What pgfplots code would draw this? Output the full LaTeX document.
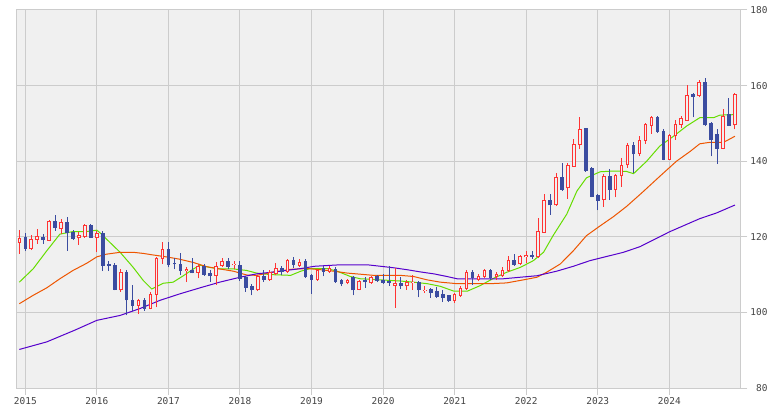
\documentclass[border=0pt]{standalone}
\usepackage{pgfplots}
\pgfplotsset{compat=1.18}
\usepackage{pgfplotstable}
\usepackage{fontspec}
\setmainfont{DejaVu Sans Mono}
\definecolor{bg}{HTML}{F0F0F0}
\definecolor{gridc}{HTML}{CCCCCC}
\definecolor{upc}{HTML}{FF3333}
\definecolor{dnc}{HTML}{3B4CA0}
\definecolor{maA}{HTML}{66DD00}
\definecolor{maB}{HTML}{EE5500}
\definecolor{maC}{HTML}{5500CC}
\definecolor{labc}{HTML}{444444}

% up (red, hollow) candles: x, body low, body high, wick low, wick high
\pgfplotstableread{
x lo hi wl wh
0 118.3 119.7 115.5 121.8
2 116.9 119.4 116.5 120.4
3 119.1 120.3 118.2 122.0
5 118.9 124.2 118.8 124.4
7 122.0 123.9 120.7 124.6
10 119.6 120.5 117.9 121.4
11 120.0 123.2 119.8 123.5
13 119.8 121.1 115.9 121.6
17 105.8 110.8 105.4 111.5
20 101.8 103.4 99.6 103.6
22 101.0 104.9 100.8 105.4
23 104.7 114.4 101.3 114.7
24 114.1 116.8 112.8 118.7
28 110.9 111.5 108.0 112.0
30 110.4 112.4 109.0 112.8
33 109.7 112.4 107.3 113.4
34 112.4 113.7 112.0 114.4
36 112.5 112.9 111.5 113.7
40 105.8 109.5 105.6 109.8
42 108.6 110.7 108.4 111.1
43 110.2 111.8 110.0 113.1
45 110.7 113.8 110.4 114.1
47 112.4 113.3 112.0 114.2
50 108.6 111.3 108.4 111.6
52 110.7 111.8 110.4 112.4
55 107.8 108.7 107.4 108.9
57 106.0 108.3 105.8 108.5
59 107.8 109.3 107.6 109.6
63 107.1 107.8 101.2 111.8
65 106.9 108.0 106.0 108.5
66 107.7 108.0 106.0 110.0
68 105.7 106.0 105.1 107.1
73 103.0 104.8 102.5 105.1
74 104.4 106.5 104.2 106.9
75 106.2 110.8 106.0 111.1
77 108.6 109.5 108.2 110.2
78 109.3 111.1 109.1 111.4
80 109.3 110.2 108.6 110.8
81 109.5 111.2 109.3 112.1
82 110.9 113.9 110.7 114.8
84 112.8 115.0 112.6 115.3
85 114.6 115.3 113.2 116.3
87 114.6 121.6 114.4 125.1
88 121.1 129.7 121.1 131.2
90 128.3 135.8 128.2 136.9
92 132.8 139.1 130.1 139.6
93 138.5 144.6 138.5 145.9
94 144.4 148.6 143.2 151.8
98 129.7 136.1 127.9 136.5
100 132.5 136.4 130.4 136.7
101 136.0 139.1 133.2 140.8
102 138.9 144.2 138.3 144.9
104 141.9 145.5 141.3 146.6
105 145.3 149.9 144.6 150.1
106 149.3 151.6 147.2 151.9
109 140.4 146.9 140.2 147.1
110 146.6 149.9 145.7 151.0
111 149.7 151.3 148.8 151.9
112 150.7 157.6 150.6 160.1
114 157.2 160.9 156.9 161.6
118 143.3 151.9 143.1 153.8
120 149.5 157.8 148.4 158.1
}\upT

% down (blue, filled) candles
\pgfplotstableread{
x lo hi wl wh
1 116.9 119.9 116.2 120.9
4 119.1 120.0 118.2 120.7
6 122.3 124.2 121.6 125.8
8 120.9 124.0 116.3 125.3
9 119.4 121.3 119.1 121.8
12 119.8 123.2 119.8 123.5
14 112.4 120.9 110.9 121.6
15 112.4 112.8 110.9 113.7
16 106.0 112.6 105.8 113.0
18 103.2 110.8 99.2 111.1
19 101.8 103.4 100.5 107.3
21 101.0 103.4 100.5 103.8
25 112.5 116.8 111.9 118.7
26 112.7 113.0 111.4 114.4
27 110.9 112.8 110.0 115.6
29 110.4 111.3 110.3 114.4
31 110.0 112.4 109.7 112.8
32 109.5 110.4 108.0 111.1
35 112.1 113.7 111.5 114.4
37 108.9 112.6 108.4 113.5
38 106.5 109.3 105.4 109.5
39 105.8 106.9 104.5 107.4
41 108.6 109.5 108.0 111.3
44 110.6 111.8 110.0 112.2
46 112.6 113.8 111.8 114.6
48 109.3 113.6 109.1 114.0
49 108.6 110.0 104.9 110.2
51 110.7 111.8 109.5 112.2
53 108.0 111.6 107.9 112.0
54 107.4 108.5 106.9 108.9
56 105.8 109.3 104.5 109.5
58 108.0 108.5 106.5 109.3
60 108.3 109.5 108.0 109.8
61 107.8 108.6 107.6 110.2
62 107.8 108.3 107.1 112.4
64 106.9 107.8 106.3 109.3
67 105.8 108.0 104.0 108.3
69 105.1 106.3 103.9 106.5
70 104.2 105.6 103.9 106.7
71 103.9 104.9 102.7 105.8
72 103.0 104.5 102.7 104.7
76 109.2 110.8 107.3 111.3
79 109.2 111.1 108.5 111.4
83 112.6 113.9 112.4 115.4
86 114.6 115.3 114.1 116.3
89 128.3 129.7 125.8 131.2
91 132.5 135.8 132.1 139.6
95 137.4 148.8 137.2 148.9
96 130.5 138.2 130.4 138.4
97 129.5 131.0 127.0 131.2
99 132.4 136.1 129.7 138.0
103 141.8 144.3 136.9 145.2
107 147.8 151.6 147.5 151.9
108 140.4 148.1 140.2 148.4
113 157.0 157.9 151.6 158.1
115 149.5 161.0 149.3 162.0
116 145.5 150.1 141.3 150.4
117 143.3 147.2 139.3 148.4
119 149.4 152.5 149.3 156.7
}\dnT

\pgfplotstableread{
x y
0 108.0
2.3 111.5
4.6 116.3
6.8 120.7
9 121.4
11.3 121.4
13 121.75
13.5 121.1
15.2 118.5
16.9 115.9
19.1 111.9
20.8 108.4
22.2 106.2
24.1 107.7
25.8 108.0
27.5 109.7
29.2 111.5
30.3 112.5
31.9 111.9
33.6 111.5
35.9 111.5
38.1 111.1
39.8 110.4
42.1 110.0
45.5 109.8
47.2 110.9
48.8 111.6
51.6 111.6
53.3 110.9
55.5 109.5
57.2 108.9
60.6 108.6
63.9 108.3
66.1 108.0
68.4 107.6
70.6 106.9
72.9 105.6
75.1 105.6
77.3 107.1
79.5 109.0
81.7 110.6
84 111.9
86.2 113.7
87.9 115.9
89.5 120.3
91.8 126.0
93.5 132.1
95.1 135.6
97.4 137.2
99.6 137.4
101.8 137.3
103 136.7
105.2 140.0
107.4 144.0
109.7 146.6
111.9 149.3
114.1 151.5
116.4 151.5
117.5 152.2
119.7 152.3
120 152.6
}\maAT

\pgfplotstableread{
x y
0 102.3
2.3 104.5
4.6 106.5
6.8 108.9
9 111.1
11.3 113.0
13 114.7
14.6 115.4
16.9 115.9
19.1 115.9
20.8 115.6
22.4 115.2
24.6 114.7
26.8 114.1
29.2 113.2
31.4 112.1
33.6 111.5
35.9 110.9
38.1 109.9
39.8 109.8
42.7 110.7
45.5 111.4
48.3 111.6
50.5 111.3
52.7 110.9
55 110.4
57.2 110.1
59.4 109.8
63.9 109.8
66.1 109.5
68.4 108.6
70.6 108.0
73.4 107.6
79 107.6
81.7 107.8
84.5 108.6
86.8 109.3
88.4 110.6
90.7 112.8
92.9 116.3
95.1 120.3
97.4 122.9
99.6 125.3
101.8 128.0
104.3 131.5
107.4 136.0
110.2 140.0
112.5 142.6
114.1 144.6
115.8 145.0
118.1 145.0
120 146.6
}\maBT

\pgfplotstableread{
x y
0 90.2
4.6 92.2
9.3 95.3
13 97.9
16.9 99.2
20.2 101.0
23.6 103.2
26.9 104.9
30.3 106.5
33.6 108.0
37 109.3
39.8 110.2
43.8 110.9
47.2 111.6
49.5 112.2
51.6 112.4
53.9 112.6
58.3 112.6
60.6 112.2
62.8 111.8
65 111.3
67.3 110.7
69.5 110.2
71.7 109.5
73.4 108.9
81.2 108.9
86.8 109.7
90.1 110.9
92.9 112.2
95.7 113.7
98.5 114.8
101.3 115.9
104.1 117.4
109 121.3
114.1 124.8
116.9 126.3
120 128.4
}\maCT

\begin{document}
\begin{tikzpicture}
\path[use as bounding box] (-16.3bp,-23bp) rectangle (759.7bp,388bp);
\begin{axis}[
  at={(0,0)}, anchor=south west,
  scale only axis, width=724bp, height=378bp,
  xmin=-0.51, xmax=120.9, ymin=80, ymax=180,
  axis background/.style={fill=bg},
  axis line style={draw=gridc, line width=1bp},
  grid=major, major grid style={draw=gridc, line width=1bp},
  xtick={1,13,25,37,49,61,73,85,97,109},
  xticklabels={2015,2016,2017,2018,2019,2020,2021,2022,2023,2024},
  ytick={80,100,120,140,160,180},
  xtick pos=left, ytick pos=right, yticklabel pos=right,
  tick align=outside, major tick length=7bp,
  tick style={draw=gridc, line width=1bp},
  /pgf/number format/assume math mode=true,
  ticklabel style={font=\fontsize{9.5}{10}\selectfont, text=labc},
  yticklabel style={anchor=west, text width=18bp, align=right, inner sep=0pt, xshift=2bp},
  xticklabel style={inner sep=2bp},
]
\addplot[maA, line width=1bp] table[x=x, y=y] {\maAT};
\addplot[maB, line width=1bp] table[x=x, y=y] {\maBT};
\addplot[maC, line width=1bp] table[x=x, y=y] {\maCT};
% wicks
\addplot[upc, line width=1bp, quiver={u=0, v=\thisrow{wh}-\thisrow{wl}}] table[x=x, y=wl] {\upT};
\addplot[dnc, line width=1bp, quiver={u=0, v=\thisrow{wh}-\thisrow{wl}}] table[x=x, y=wl] {\dnT};
% bodies
\addplot[upc, line width=3.6bp, quiver={u=0, v=\thisrow{hi}-\thisrow{lo}}] table[x=x, y=lo] {\upT};
\addplot[bg, line width=1.6bp, shorten >=1bp, shorten <=1bp, quiver={u=0, v=\thisrow{hi}-\thisrow{lo}}] table[x=x, y=lo] {\upT};
\addplot[dnc, line width=3.6bp, quiver={u=0, v=\thisrow{hi}-\thisrow{lo}}] table[x=x, y=lo] {\dnT};
\end{axis}
\end{tikzpicture}
\end{document}
